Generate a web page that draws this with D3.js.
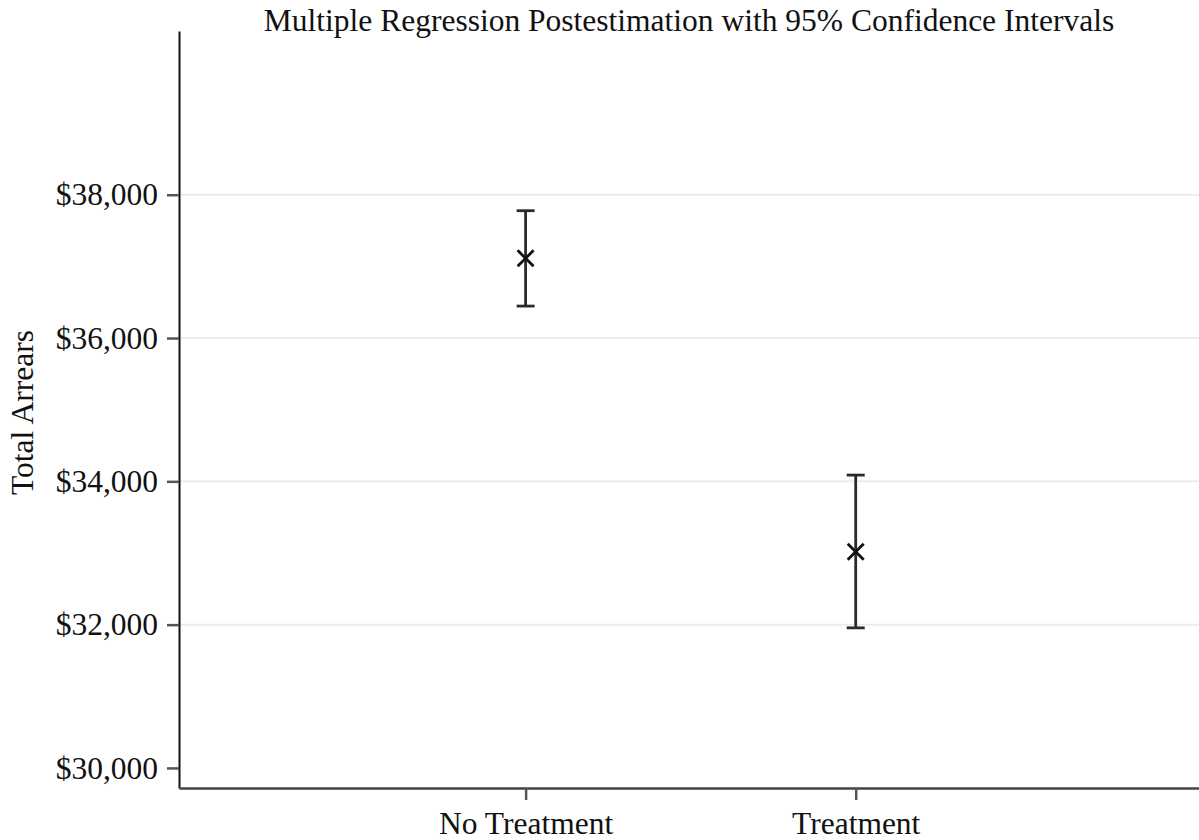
<!DOCTYPE html>
<html>
<head>
<meta charset="utf-8">
<script src="https://cdn.jsdelivr.net/npm/d3@7"></script>
<style>
  body { margin: 0; background: #fff; }
  svg { display: block; }
  text { font-family: "Liberation Serif", "Times New Roman", serif; fill: #111; }
</style>
</head>
<body>
<svg></svg>
<script>
// data
var groups = ["No Treatment", "Treatment"];
var estimates = [37112, 33016];
var upperCI = [37777, 34087];
var lowerCI = [36446, 31955];
var yTicks = [30000, 32000, 34000, 36000, 38000];

var screen = {width: 1199, height: 840};
var svg = d3.select("svg")
    .attr("width", screen.width)
    .attr("height", screen.height);

// plot area (not called "top" - that clashes with window.top)
var plot = {left: 179, right: 1199, top: 31, bottom: 788};
var fontSize = 31.5;

var x = d3.scaleLinear().domain([-1.05, 2.04]).range([plot.left, plot.right]);
var y = d3.scaleLinear().domain([29720, 40285]).range([plot.bottom, plot.top]);

var fmt = function(d) { return "$" + d3.format(",")(d); };

// gridlines
svg.append("g")
    .selectAll("line")
    .data(yTicks.slice(1))
    .enter()
    .append("line")
    .attr("x1", plot.left + 1)
    .attr("x2", plot.right)
    .attr("y1", function(d) { return y(d); })
    .attr("y2", function(d) { return y(d); })
    .attr("stroke", "#e6efef")
    .attr("stroke-width", 2);

// y axis
var yAxis = svg.append("g")
    .attr("transform", "translate(" + plot.left + ",0)")
    .call(d3.axisLeft(y).tickValues(yTicks).tickFormat(fmt).tickSize(12).tickSizeOuter(0).tickPadding(9));
yAxis.select(".domain").attr("stroke", "#111").attr("stroke-width", 2);
yAxis.selectAll(".tick line").attr("stroke", "#555").attr("stroke-width", 2.5);
yAxis.selectAll(".tick text")
    .attr("font-size", fontSize)
    .attr("font-family", "Liberation Serif, serif")
    .attr("fill", "#1a1a2a");

// x axis
var xAxis = svg.append("g")
    .attr("transform", "translate(0," + plot.bottom + ")")
    .call(d3.axisBottom(x).tickValues([0, 1]).tickFormat(function(d) { return groups[d]; })
        .tickSize(12).tickSizeOuter(0).tickPadding(12));
xAxis.select(".domain").attr("stroke", "#444").attr("stroke-width", 2.5);
xAxis.selectAll(".tick line").attr("stroke", "#555").attr("stroke-width", 2.5);
xAxis.selectAll(".tick text")
    .attr("font-size", fontSize)
    .attr("font-family", "Liberation Serif, serif")
    .attr("fill", "#1a1a2a");

// confidence intervals
var ci = svg.append("g").attr("stroke", "#2a2a2a").attr("stroke-width", 2.8);
groups.forEach(function(g, i) {
    var cx = x(i);
    ci.append("line").attr("x1", cx).attr("x2", cx).attr("y1", y(upperCI[i])).attr("y2", y(lowerCI[i]));
    ci.append("line").attr("x1", cx - 9).attr("x2", cx + 9).attr("y1", y(upperCI[i])).attr("y2", y(upperCI[i]));
    ci.append("line").attr("x1", cx - 9).attr("x2", cx + 9).attr("y1", y(lowerCI[i])).attr("y2", y(lowerCI[i]));
});

// point estimates as X markers
var marks = svg.append("g").attr("stroke", "#111").attr("stroke-width", 2.8);
groups.forEach(function(g, i) {
    var cx = x(i), cy = y(estimates[i]), s = 8;
    marks.append("line").attr("x1", cx - s).attr("x2", cx + s).attr("y1", cy - s).attr("y2", cy + s);
    marks.append("line").attr("x1", cx - s).attr("x2", cx + s).attr("y1", cy + s).attr("y2", cy - s);
});

// title
svg.append("text")
    .attr("x", (plot.left + plot.right) / 2)
    .attr("y", 31)
    .attr("text-anchor", "middle")
    .attr("font-size", fontSize)
    .text("Multiple Regression Postestimation with 95% Confidence Intervals");

// y label
svg.append("text")
    .attr("transform", "translate(33," + ((plot.top + plot.bottom) / 2 + 3) + ") rotate(-90)")
    .attr("text-anchor", "middle")
    .attr("font-size", fontSize)
    .text("Total Arrears");
</script>
</body>
</html>
